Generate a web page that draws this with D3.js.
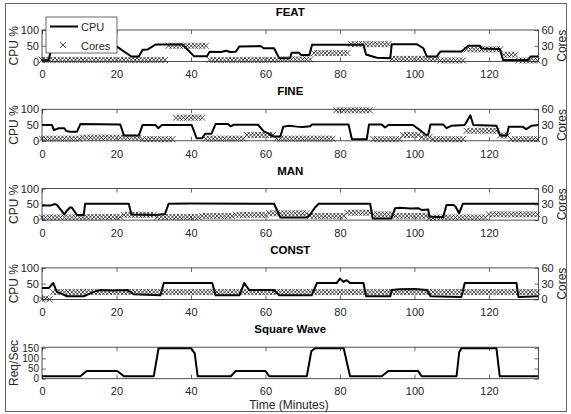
<!DOCTYPE html>
<html><head><meta charset="utf-8">
<script src="https://cdn.jsdelivr.net/npm/d3@7"></script>
<style>
body{margin:0;background:#fff}
svg{display:block}
text{font-family:"Liberation Sans",Arial,sans-serif}
</style>
</head><body>
<svg id="c" width="571" height="414"></svg>
<script>
// ---------- DATA ----------
const panelTitles = ["FEAT", "FINE", "MAN", "CONST"];
const lastTitle = "Square Wave";
const xTicks = [0, 20, 40, 60, 80, 100, 120];
const cpuTicks = [0, 50, 100];
const coreTicks = [0, 30, 60];
const reqTicks = [0, 50, 100, 150];
const minutes = d3.range(0, 134); // core samples: one per minute

// CPU % as [minute, value]
const featCpu = [[0,4],[1.8,4],[2.6,48],[20,48],[24,16],[26,16],[27,37],[28.3,38],[30.5,54],[37.7,54],[40.8,17],[44.3,17],[45,31],[48,30],[49.5,34],[50.5,30],[52,31],[53,48],[58.7,49],[59.5,42],[62.3,42],[63.7,10],[66.6,10],[67,28],[69,28],[69.5,21],[71.8,21],[72.5,53],[86.3,53],[87,22],[89.9,12],[93.5,10],[93.9,55],[100.6,55],[102.4,42],[103.3,16],[106,16],[107,32],[112.6,32],[114.5,50],[117.6,50],[118,41],[122.9,40],[123.8,5],[130.5,5],[131.2,16],[133.3,16]];
const fineCpu = [[0,50],[2.7,50],[3.2,34],[4.5,40],[6,40],[6.5,31],[7.6,29],[9.4,29],[10.3,53],[21,52],[22,17],[26,17],[27,50],[30.5,50],[31.2,40],[32.2,50],[40.2,50],[41.5,8],[43,8],[43.8,22],[45.5,22],[46.6,53],[50,53],[50.6,46],[51.5,51],[58,51],[59.6,29],[60.5,25],[62,14],[64,14],[64.8,45],[66.5,48],[68.4,45],[70,44],[72,46],[72.5,52],[82.3,52],[83.2,5],[87.2,5],[87.8,52],[91.2,52],[92.1,42],[93,50],[99.6,50],[102,29],[103,19],[103.7,19],[104.3,52],[107.7,52],[108.6,40],[110,48],[113.5,50],[115,81],[115.8,50],[122,48],[123,17],[124.8,17],[125.3,45],[129,45],[130,37],[131.5,48],[133.3,50]];
const manCpu = [[0,46],[2.2,46],[3.5,51],[4,48],[6,18],[6.7,30],[7.5,40],[8,40],[9.4,16],[11.2,16],[11.6,52],[23.3,52],[24,18],[30.5,16],[33,19],[34,52],[40,53],[62.3,52],[64,8],[71,8],[72,18],[73.3,40],[74.3,52],[88.1,52],[88.8,5],[93.8,5],[94.8,38],[96,39],[99,37],[101,38],[102,32],[103.7,34],[104,11],[107.7,10],[108.6,48],[110.5,48],[111,43],[112,22],[113,52],[133.3,52]];
const constCpu = [[0,36],[1.8,36],[3,52],[4,24],[5,19],[6.7,10],[11.2,10],[13.9,24],[15.7,30],[19,28],[22.9,30],[24.7,16],[31.8,13],[32.7,52],[45.7,52],[46.6,13],[53,13],[54.3,52],[55.6,30],[62.3,30],[63.7,13],[72.4,13],[73.8,52],[79.1,52],[80,66],[80.9,56],[81.8,61],[82.7,52],[86.3,52],[87,10],[93.5,10],[93.9,30],[96,32],[100,33],[103.4,30],[104.3,10],[112.6,8],[113.5,52],[127.4,52],[127.9,8],[133.3,10]];

// Cores, one value per minute (0..133)
const featCores = [
3,3,3,3,3,3,3,3,3,3,
3,3,3,3,3,3,3,3,3,3,
3,3,3,3,3,3,3,3,3,3,
3,3,3,3,30,30,30,30,30,30,
30,30,30,30,30,3,3,3,3,3,
3,3,3,3,3,3,3,3,3,3,
3,3,3,3,4,4,4,4,4,4,
4,4,4,16,16,16,16,16,16,16,
16,16,16,33,33,33,33,33,33,33,
33,33,33,33,5,5,5,5,5,5,
5,5,5,5,5,5,5,2,2,2,
2,2,2,2,23,23,23,23,23,23,
23,23,23,23,13,13,13,13,2,2,
2,2,2,2];
const fineCores = [
4,4,4,4,4,4,4,4,4,4,
4,6,6,6,6,6,6,6,6,6,
6,6,6,6,6,6,6,3,3,3,
3,3,3,3,3,3,44,44,44,44,
44,44,44,44,4,4,4,4,4,4,
4,4,4,4,4,11,11,11,11,11,
11,11,11,4,4,4,4,4,4,4,
4,4,4,4,4,4,4,4,4,58,
58,58,58,58,58,58,58,58,58,3,
3,3,3,3,3,3,3,11,11,11,
11,11,7,7,7,3,3,3,3,3,
3,3,3,3,19,19,19,19,19,19,
19,19,19,10,10,10,3,3,3,3,
3,3,3,3];
const manCores = [
5,5,5,5,5,5,5,5,5,5,
5,5,6,6,6,6,6,6,6,6,
6,6,10,10,10,10,10,10,10,10,
10,6,6,6,6,6,6,6,6,6,
6,6,6,8,8,8,8,8,8,8,
8,8,10,10,10,10,10,10,10,10,
10,13,13,13,13,13,13,13,13,13,
13,13,8,8,8,8,8,8,8,8,
8,8,14,14,14,14,14,14,14,11,
11,11,11,11,11,8,8,8,8,8,
8,8,8,8,4,4,5,5,5,5,
5,5,5,5,5,5,5,5,5,5,
11,11,11,11,11,11,11,11,11,11,
11,11,11,11];
const constCores = [
0,2,0,14,14,14,14,14,14,14,
14,14,14,14,14,14,14,14,14,14,
14,14,14,14,14,14,14,14,14,14,
14,14,14,14,14,14,14,14,14,14,
14,14,14,14,14,14,14,14,14,14,
14,14,14,14,14,14,14,14,14,14,
14,14,14,14,14,14,14,14,14,14,
14,14,14,14,14,14,14,14,14,14,
14,14,14,14,14,14,14,14,14,14,
14,14,14,14,14,14,14,14,14,14,
14,14,14,14,14,14,14,14,14,14,
14,14,14,14,14,14,14,14,14,14,
14,14,14,14,14,14,14,14,14,14,
14,14,14,14];

// Square wave, Req/Sec as [minute, value]
const squareReq = [[0,12],[10.3,12],[12,38],[20.2,38],[22,12],[30,12],[31.3,150],[40,150],[41,125],[41.8,12],[50.7,12],[52,38],[60,38],[61,12],[71.1,12],[72.3,135],[73.3,150],[81,150],[82.7,12],[91.2,12],[93,38],[101,38],[101.9,12],[111.3,12],[112,130],[112.6,150],[122,150],[122.9,12],[133.3,12]];

const legendLabels = ["CPU", "Cores"];

// ---------- DRAW ----------
const svg = d3.select("#c");
const ink = "#262626";
const x = d3.scaleLinear().domain([0, 133.3]).range([42, 538.5]);
const tops = [30, 109.3, 188.6, 267.9, 347.2];
const ph = 31.5;

svg.append("rect").attr("x", 5.5).attr("y", 3.5).attr("width", 561).attr("height", 408)
  .attr("fill", "none").attr("stroke", "#666").attr("stroke-width", 1);

function styleAxis(g, fs) {
  g.select(".domain").remove();
  g.selectAll(".tick line").attr("stroke", ink).attr("stroke-width", 0.7);
  g.selectAll(".tick text").attr("fill", ink).style("font-size", fs + "px")
    .style("font-family", '"Liberation Sans",Arial,sans-serif');
}

function frame(top, yLeft, yRight, fsY) {
  const bot = top + ph;
  svg.append("g").attr("transform", `translate(0,${bot})`)
    .call(d3.axisBottom(x).tickValues(xTicks).tickSize(-4).tickPadding(9)).call(g => styleAxis(g, 11));
  svg.append("g").attr("transform", `translate(0,${top})`)
    .call(d3.axisTop(x).tickValues(xTicks).tickSize(-4).tickFormat(""))
    .call(g => styleAxis(g, 11));
  svg.append("g").attr("transform", `translate(${x.range()[0]},0)`)
    .call(d3.axisLeft(yLeft.s).tickValues(yLeft.t).tickSize(-4).tickPadding(3)).call(g => styleAxis(g, fsY));
  const r = d3.axisRight(yRight.s).tickValues(yRight.t).tickSize(-4).tickPadding(3);
  if (!yRight.labels) r.tickFormat("");
  svg.append("g").attr("transform", `translate(${x.range()[1]},0)`).call(r).call(g => styleAxis(g, 11));
  svg.append("rect").attr("x", x.range()[0]).attr("y", top)
    .attr("width", x.range()[1] - x.range()[0]).attr("height", ph)
    .attr("fill", "none").attr("stroke", ink).attr("stroke-width", 0.8);
}

function title(txt, top) {
  svg.append("text").attr("x", (x.range()[0] + x.range()[1]) / 2).attr("y", top - 14)
    .attr("text-anchor", "middle").attr("font-weight", "bold").attr("font-size", 11.5)
    .attr("fill", "#000").text(txt);
}

function yLabel(txt, xpos, top) {
  svg.append("text").attr("transform", `translate(${xpos},${top + ph / 2}) rotate(-90)`)
    .attr("text-anchor", "middle").attr("font-size", 12).attr("fill", ink).text(txt);
}

const crossD = s => `M${-s},${-s}L${s},${s}M${-s},${s}L${s},${-s}`;

const cpuSeries = [featCpu, fineCpu, manCpu, constCpu];
const coreSeries = [featCores, fineCores, manCores, constCores];

panelTitles.forEach((t, i) => {
  const top = tops[i], bot = top + ph;
  const yc = d3.scaleLinear().domain([0, 100]).range([bot, top]);
  const yk = d3.scaleLinear().domain([0, 60]).range([bot, top]);
  title(t, top);
  svg.append("path").datum(cpuSeries[i])
    .attr("d", d3.line().x(d => x(d[0])).y(d => yc(d[1])))
    .attr("fill", "none").attr("stroke", "#000").attr("stroke-width", 2).attr("stroke-linejoin", "round");
  svg.append("g").selectAll("path").data(coreSeries[i]).join("path")
    .attr("d", crossD(3))
    .attr("transform", (d, j) => `translate(${x(minutes[j])},${yk(d)})`)
    .attr("fill", "none").attr("stroke", "#1a1a1a").attr("stroke-width", 0.8);
  frame(top, {s: yc, t: cpuTicks}, {s: yk, t: coreTicks, labels: true}, 11);
  yLabel("CPU %", 18, top);
  yLabel("Cores", 566, top);
});

// Square wave panel
{
  const top = tops[4], bot = top + ph;
  const yr = d3.scaleLinear().domain([0, 155]).range([bot, top]);
  title(lastTitle, top);
  svg.append("path").datum(squareReq)
    .attr("d", d3.line().x(d => x(d[0])).y(d => yr(d[1])))
    .attr("fill", "none").attr("stroke", "#000").attr("stroke-width", 2).attr("stroke-linejoin", "round");
  frame(top, {s: yr, t: reqTicks}, {s: yr, t: reqTicks, labels: false}, 10);
  yLabel("Req/Sec", 18, top);
  svg.append("text").attr("x", 289).attr("y", 408.5).attr("text-anchor", "middle")
    .attr("font-size", 12).attr("fill", ink).text("Time (Minutes)");
}

// Legend
{
  const lg = svg.append("g");
  lg.append("rect").attr("x", 46).attr("y", 17).attr("width", 71).attr("height", 36)
    .attr("fill", "#fff").attr("stroke", ink).attr("stroke-width", 0.7);
  lg.append("line").attr("x1", 50).attr("x2", 78).attr("y1", 26.5).attr("y2", 26.5)
    .attr("stroke", "#000").attr("stroke-width", 2);
  lg.append("path").attr("d", crossD(3)).attr("transform", "translate(63,45)")
    .attr("fill", "none").attr("stroke", ink).attr("stroke-width", 0.8);
  lg.selectAll("text").data(legendLabels).join("text")
    .attr("x", 81).attr("y", (d, i) => i === 0 ? 31 : 50)
    .attr("font-size", 11).attr("fill", ink).text(d => d);
}
</script>
</body></html>
